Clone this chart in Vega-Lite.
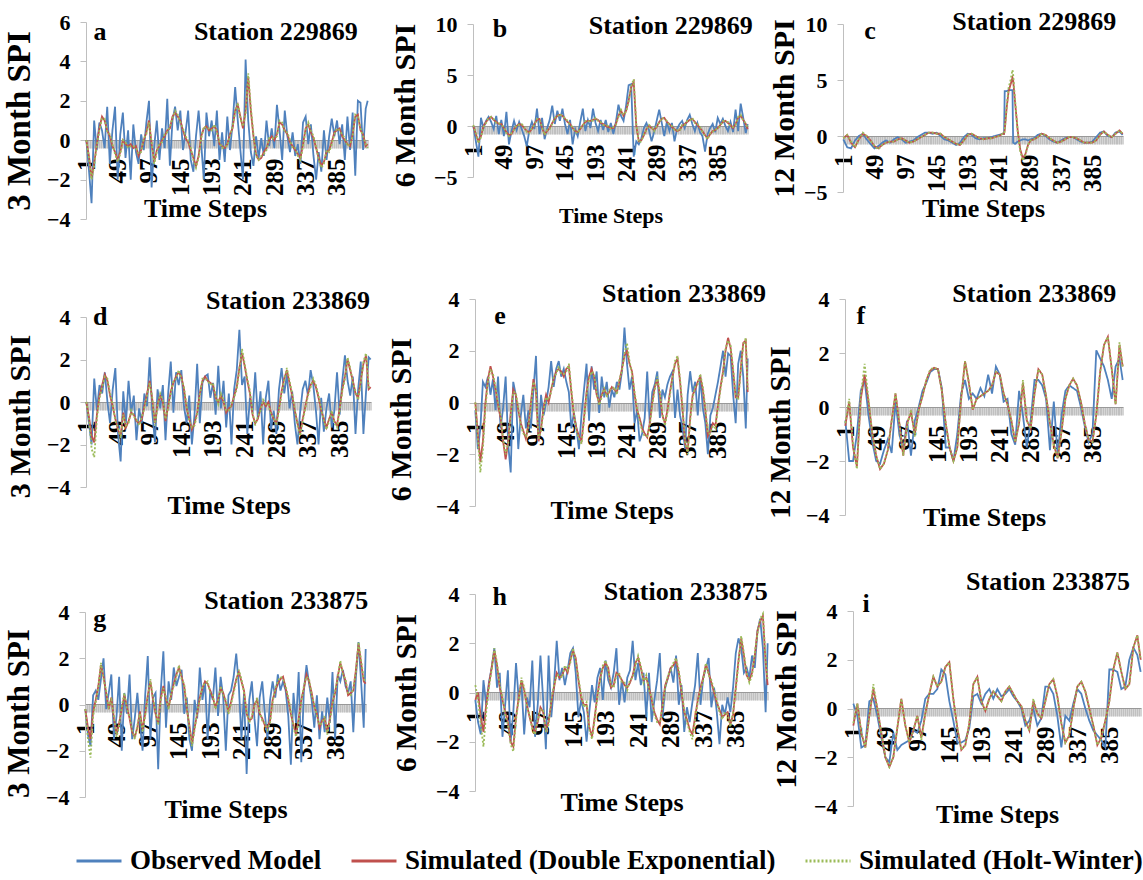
{
"$schema": "https://vega.github.io/schema/vega-lite/v6.json",
"padding": {"left": 3, "top": 8, "right": 0, "bottom": 0},
"background": "white",
"columns": 3,
"spacing": {"row": 79, "column": 75},
"bounds": "flush",
"align": "each",
"datasets": {
"a": [{"t":1,"o":0,"d":0,"h":0},{"t":5,"o":-1.5,"d":-0.8,"h":-0.9},{"t":9,"o":-3.2,"d":-1.9,"h":-2.0},{"t":13,"o":1.0,"d":-1.2,"h":-1.3},{"t":17,"o":-0.5,"d":-0.2,"h":-0.3},{"t":21,"o":0.9,"d":0.6,"h":0.5},{"t":25,"o":0.5,"d":1.2,"h":1.1},{"t":29,"o":-0.4,"d":1.0,"h":1.1},{"t":33,"o":1.7,"d":0.5,"h":0.4},{"t":37,"o":-1.2,"d":0.2,"h":0.3},{"t":41,"o":0.5,"d":-0.3,"h":-0.2},{"t":45,"o":1.7,"d":-0.6,"h":-0.7},{"t":49,"o":-2.0,"d":-1.0,"h":-1.1},{"t":53,"o":0.3,"d":-0.6,"h":-0.7},{"t":57,"o":1.4,"d":0,"h":0},{"t":61,"o":-0.9,"d":-0.2,"h":-0.1},{"t":65,"o":0.5,"d":-0.3,"h":-0.4},{"t":69,"o":-2.0,"d":-0.2,"h":-0.3},{"t":73,"o":0.8,"d":-0.4,"h":-0.3},{"t":77,"o":-0.6,"d":-0.3,"h":-0.4},{"t":81,"o":-1.2,"d":-0.8,"h":-0.7},{"t":85,"o":0.3,"d":-0.5,"h":-0.6},{"t":89,"o":-0.5,"d":0,"h":0.1},{"t":93,"o":0.9,"d":0.4,"h":0.3},{"t":97,"o":2.0,"d":1.0,"h":0.9},{"t":101,"o":-2.4,"d":-0.2,"h":-0.1},{"t":105,"o":-0.3,"d":-1.1,"h":-1.2},{"t":109,"o":1.0,"d":-0.5,"h":-0.6},{"t":113,"o":-1.0,"d":-0.3,"h":-0.2},{"t":117,"o":0.6,"d":0,"h":-0.1},{"t":121,"o":-0.4,"d":0.2,"h":0.3},{"t":125,"o":2.1,"d":0.5,"h":0.4},{"t":129,"o":-1.3,"d":0.6,"h":0.7},{"t":133,"o":1.0,"d":1.2,"h":1.1},{"t":137,"o":1.7,"d":1.4,"h":1.5},{"t":141,"o":0.5,"d":1.2,"h":1.3},{"t":145,"o":1.5,"d":1.0,"h":0.9},{"t":149,"o":-0.5,"d":0.5,"h":0.6},{"t":153,"o":0.4,"d":0.1,"h":0.2},{"t":157,"o":1.5,"d":-0.1,"h":0},{"t":161,"o":-1.0,"d":-0.5,"h":-0.4},{"t":165,"o":-1.6,"d":-0.9,"h":-1.0},{"t":169,"o":0.2,"d":-1.3,"h":-1.4},{"t":173,"o":1.5,"d":-0.8,"h":-0.9},{"t":177,"o":-0.2,"d":0.2,"h":0.1},{"t":181,"o":-2.0,"d":0.6,"h":0.7},{"t":185,"o":1.4,"d":0.7,"h":0.6},{"t":189,"o":0.2,"d":0.5,"h":0.6},{"t":193,"o":1.0,"d":0.6,"h":0.5},{"t":197,"o":-0.3,"d":0.7,"h":0.8},{"t":201,"o":1.5,"d":0.5,"h":0.4},{"t":205,"o":-1.0,"d":-0.2,"h":-0.1},{"t":209,"o":0.4,"d":-0.3,"h":-0.4},{"t":213,"o":-1.1,"d":-0.4,"h":-0.3},{"t":217,"o":1.2,"d":-0.2,"h":-0.3},{"t":221,"o":-0.5,"d":0.3,"h":0.2},{"t":225,"o":0.8,"d":0.6,"h":0.7},{"t":229,"o":2.7,"d":1.5,"h":1.4},{"t":233,"o":1.0,"d":1.8,"h":1.9},{"t":237,"o":-0.5,"d":1.2,"h":1.1},{"t":241,"o":-2.0,"d":0.6,"h":0.7},{"t":245,"o":4.1,"d":1.5,"h":1.3},{"t":249,"o":1.0,"d":3.2,"h":3.4},{"t":253,"o":-0.6,"d":1.5,"h":1.7},{"t":257,"o":-1.3,"d":0.2,"h":0.3},{"t":261,"o":0.2,"d":-0.7,"h":-0.8},{"t":265,"o":-0.9,"d":-1.0,"h":-1.0},{"t":269,"o":0.1,"d":-0.9,"h":-0.8},{"t":273,"o":-0.8,"d":-0.6,"h":-0.7},{"t":277,"o":1.0,"d":-0.4,"h":-0.5},{"t":281,"o":-0.3,"d":0,"h":0.1},{"t":285,"o":0.6,"d":0.2,"h":0.1},{"t":289,"o":-0.4,"d":0,"h":0.1},{"t":293,"o":1.8,"d":0.3,"h":0.2},{"t":297,"o":0.5,"d":0.9,"h":1.0},{"t":301,"o":-1.0,"d":0.8,"h":0.9},{"t":305,"o":1.5,"d":0.5,"h":0.4},{"t":309,"o":0.2,"d":0.3,"h":0.4},{"t":313,"o":-0.6,"d":-0.1,"h":0},{"t":317,"o":0.4,"d":-0.3,"h":-0.4},{"t":321,"o":-0.8,"d":-0.5,"h":-0.4},{"t":325,"o":-0.2,"d":-0.7,"h":-0.8},{"t":329,"o":-1.2,"d":-0.9,"h":-1.0},{"t":333,"o":0.9,"d":-0.2,"h":-0.3},{"t":337,"o":1.2,"d":0.6,"h":0.5},{"t":341,"o":-0.2,"d":0.8,"h":0.9},{"t":345,"o":0.8,"d":0.4,"h":0.5},{"t":349,"o":-0.8,"d":0.1,"h":0.2},{"t":353,"o":-2.0,"d":-0.4,"h":-0.3},{"t":357,"o":-0.6,"d":-0.9,"h":-1.0},{"t":361,"o":-1.6,"d":-1.3,"h":-1.4},{"t":365,"o":0.5,"d":-1.1,"h":-1.2},{"t":369,"o":-1.0,"d":-0.6,"h":-0.5},{"t":373,"o":0.2,"d":-0.5,"h":-0.6},{"t":377,"o":1.1,"d":-0.1,"h":-0.2},{"t":381,"o":0.2,"d":0.4,"h":0.3},{"t":385,"o":1.0,"d":0.5,"h":0.6},{"t":389,"o":-0.2,"d":0.6,"h":0.5},{"t":393,"o":0.8,"d":0.2,"h":0.3},{"t":397,"o":-1.0,"d":0,"h":0.1},{"t":401,"o":1.2,"d":-0.2,"h":-0.3},{"t":405,"o":-0.5,"d":-0.3,"h":-0.2},{"t":409,"o":1.4,"d":0.3,"h":0.2},{"t":413,"o":-1.8,"d":1.2,"h":1.3},{"t":417,"o":2.0,"d":1.3,"h":1.2},{"t":421,"o":1.9,"d":0.5,"h":0.6},{"t":425,"o":-0.5,"d":0.3,"h":0.2},{"t":429,"o":1.6,"d":-0.3,"h":-0.2},{"t":432,"o":2.0,"d":-0.2,"h":-0.4}],
"b": [{"t":1,"o":0,"d":0,"h":0.1},{"t":5,"o":-1.5,"d":-0.8,"h":-0.7},{"t":9,"o":-3.0,"d":-1.5,"h":-1.7},{"t":13,"o":0.8,"d":-1.0,"h":-1.1},{"t":17,"o":-0.2,"d":0,"h":-0.1},{"t":21,"o":0.5,"d":0.4,"h":0.3},{"t":25,"o":0.9,"d":0.7,"h":0.8},{"t":29,"o":0.4,"d":0.9,"h":0.9},{"t":33,"o":-0.3,"d":0.6,"h":0.7},{"t":37,"o":1.0,"d":0.4,"h":0.3},{"t":41,"o":-0.8,"d":0.2,"h":0.3},{"t":45,"o":0.6,"d":0.2,"h":0.1},{"t":49,"o":-1.0,"d":-0.2,"h":-0.1},{"t":53,"o":1.4,"d":-0.6,"h":-0.7},{"t":57,"o":-1.8,"d":-0.9,"h":-1.0},{"t":61,"o":-0.5,"d":-0.8,"h":-0.7},{"t":65,"o":0.5,"d":-0.3,"h":-0.4},{"t":69,"o":-0.4,"d":0,"h":0.1},{"t":73,"o":0.4,"d":0.2,"h":0.1},{"t":77,"o":-0.3,"d":0.1,"h":0.2},{"t":81,"o":-1.0,"d":-0.2,"h":-0.1},{"t":85,"o":-2.0,"d":-0.5,"h":-0.6},{"t":89,"o":-0.4,"d":-0.6,"h":-0.7},{"t":93,"o":0.4,"d":-0.3,"h":-0.2},{"t":97,"o":-0.3,"d":0.2,"h":0.1},{"t":101,"o":1.7,"d":0.6,"h":0.7},{"t":105,"o":-0.8,"d":0.7,"h":0.6},{"t":109,"o":0.8,"d":-0.2,"h":-0.1},{"t":113,"o":-1.3,"d":-0.8,"h":-0.9},{"t":117,"o":-0.2,"d":-0.5,"h":-0.4},{"t":121,"o":0.6,"d":-0.2,"h":-0.3},{"t":125,"o":2.0,"d":0.3,"h":0.2},{"t":129,"o":0.2,"d":0.7,"h":0.8},{"t":133,"o":1.5,"d":1.0,"h":0.9},{"t":137,"o":0.5,"d":1.1,"h":1.2},{"t":141,"o":1.7,"d":1.0,"h":0.9},{"t":145,"o":0.2,"d":0.7,"h":0.8},{"t":149,"o":-0.8,"d":0.4,"h":0.5},{"t":153,"o":0.6,"d":0.2,"h":0.1},{"t":157,"o":-1.8,"d":-0.2,"h":-0.1},{"t":161,"o":-0.3,"d":-0.5,"h":-0.6},{"t":165,"o":-1.0,"d":-0.6,"h":-0.7},{"t":169,"o":0.4,"d":-0.3,"h":-0.2},{"t":173,"o":1.7,"d":0.1,"h":0.0},{"t":177,"o":-0.5,"d":0.4,"h":0.5},{"t":181,"o":0.6,"d":0.5,"h":0.4},{"t":185,"o":-0.2,"d":0.5,"h":0.6},{"t":189,"o":1.7,"d":0.6,"h":0.5},{"t":193,"o":0.3,"d":0.7,"h":0.8},{"t":197,"o":-0.5,"d":0.6,"h":0.5},{"t":201,"o":0.6,"d":0.3,"h":0.4},{"t":205,"o":-0.4,"d":0.2,"h":0.1},{"t":209,"o":0.6,"d":0.0,"h":0.1},{"t":213,"o":-0.6,"d":-0.1,"h":0},{"t":217,"o":0.3,"d":-0.2,"h":-0.3},{"t":221,"o":-0.8,"d":-0.2,"h":-0.1},{"t":225,"o":0.4,"d":0.2,"h":0.1},{"t":229,"o":2.1,"d":1.0,"h":0.9},{"t":233,"o":1.0,"d":1.5,"h":1.6},{"t":237,"o":0.5,"d":1.0,"h":1.1},{"t":241,"o":2.0,"d":1.5,"h":1.4},{"t":245,"o":4.0,"d":2.5,"h":2.4},{"t":249,"o":4.1,"d":3.8,"h":3.9},{"t":253,"o":-3.0,"d":4.3,"h":4.6},{"t":257,"o":-1.5,"d":0.0,"h":0.2},{"t":261,"o":-1.8,"d":-1.5,"h":-1.6},{"t":265,"o":-1.2,"d":-1.4,"h":-1.5},{"t":269,"o":-0.2,"d":-0.9,"h":-0.8},{"t":273,"o":0.3,"d":-0.3,"h":-0.4},{"t":277,"o":-0.4,"d":0,"h":0.1},{"t":281,"o":-1.5,"d":-0.2,"h":-0.1},{"t":285,"o":-0.6,"d":-0.4,"h":-0.5},{"t":289,"o":0.5,"d":-0.1,"h":0},{"t":293,"o":1.6,"d":0.4,"h":0.3},{"t":297,"o":0.3,"d":0.7,"h":0.8},{"t":301,"o":-1.0,"d":0.8,"h":0.7},{"t":305,"o":0.4,"d":0.4,"h":0.5},{"t":309,"o":-0.5,"d":0.2,"h":0.1},{"t":313,"o":0.3,"d":-0.1,"h":0},{"t":317,"o":-1.5,"d":-0.3,"h":-0.4},{"t":321,"o":-0.3,"d":-0.5,"h":-0.4},{"t":325,"o":0.2,"d":-0.4,"h":-0.5},{"t":329,"o":0.5,"d":0,"h":0.1},{"t":333,"o":-0.2,"d":0.2,"h":0.1},{"t":337,"o":0.6,"d":0.4,"h":0.5},{"t":341,"o":1.1,"d":0.6,"h":0.5},{"t":345,"o":0.2,"d":0.7,"h":0.8},{"t":349,"o":-0.5,"d":0.4,"h":0.3},{"t":353,"o":0.3,"d":0.1,"h":0.2},{"t":357,"o":-0.6,"d":-0.2,"h":-0.1},{"t":361,"o":-1.0,"d":-0.5,"h":-0.6},{"t":365,"o":-2.5,"d":-0.9,"h":-1.0},{"t":369,"o":-0.8,"d":-1.2,"h":-1.3},{"t":373,"o":-0.2,"d":-0.8,"h":-0.7},{"t":377,"o":0.2,"d":-0.5,"h":-0.6},{"t":381,"o":-0.6,"d":-0.4,"h":-0.3},{"t":385,"o":0.8,"d":-0.2,"h":-0.3},{"t":389,"o":0.2,"d":0.1,"h":0},{"t":393,"o":0.7,"d":0.4,"h":0.5},{"t":397,"o":0.0,"d":0.5,"h":0.4},{"t":401,"o":-0.5,"d":0.3,"h":0.4},{"t":405,"o":0.4,"d":0.1,"h":0},{"t":409,"o":-0.6,"d":-0.2,"h":-0.1},{"t":413,"o":1.6,"d":0.2,"h":0.1},{"t":417,"o":-0.5,"d":0.8,"h":0.9},{"t":421,"o":2.2,"d":1.0,"h":1.1},{"t":425,"o":0.8,"d":0.6,"h":0.5},{"t":429,"o":-0.7,"d":0.2,"h":0.3},{"t":432,"o":0.2,"d":-0.3,"h":-0.2}],
"c": [{"t":1,"o":-0.3,"d":-0.2,"h":-0.2},{"t":7,"o":-1.0,"d":0.1,"h":0.1},{"t":13,"o":-1.1,"d":-0.6,"h":-0.5},{"t":19,"o":-0.4,"d":-1.0,"h":-1.0},{"t":25,"o":0.0,"d":-0.3,"h":-0.3},{"t":31,"o":0.2,"d":0.2,"h":0.3},{"t":37,"o":-0.3,"d":0.0,"h":0.0},{"t":43,"o":-0.7,"d":-0.4,"h":-0.4},{"t":49,"o":-1.1,"d":-0.9,"h":-0.9},{"t":55,"o":-0.9,"d":-1.1,"h":-1.2},{"t":61,"o":-0.6,"d":-0.8,"h":-0.8},{"t":67,"o":-0.4,"d":-0.6,"h":-0.6},{"t":73,"o":-0.6,"d":-0.5,"h":-0.5},{"t":79,"o":-0.3,"d":-0.5,"h":-0.5},{"t":85,"o":-0.1,"d":-0.3,"h":-0.3},{"t":91,"o":-0.3,"d":-0.2,"h":-0.2},{"t":97,"o":-0.6,"d":-0.4,"h":-0.4},{"t":103,"o":-0.5,"d":-0.6,"h":-0.6},{"t":109,"o":-0.4,"d":-0.5,"h":-0.5},{"t":115,"o":-0.1,"d":-0.3,"h":-0.3},{"t":121,"o":0.1,"d":-0.1,"h":-0.1},{"t":127,"o":0.3,"d":0.1,"h":0.1},{"t":133,"o":0.3,"d":0.3,"h":0.3},{"t":139,"o":0.2,"d":0.3,"h":0.3},{"t":145,"o":0.3,"d":0.2,"h":0.2},{"t":151,"o":0.0,"d":0.2,"h":0.2},{"t":157,"o":-0.3,"d":-0.1,"h":-0.1},{"t":163,"o":-0.4,"d":-0.3,"h":-0.3},{"t":169,"o":-0.6,"d":-0.5,"h":-0.5},{"t":175,"o":-0.8,"d":-0.7,"h":-0.7},{"t":181,"o":-0.6,"d":-0.8,"h":-0.8},{"t":187,"o":-0.1,"d":-0.4,"h":-0.4},{"t":193,"o":0.2,"d":0.1,"h":0.1},{"t":199,"o":0.1,"d":0.2,"h":0.2},{"t":205,"o":-0.2,"d":0.0,"h":0.0},{"t":211,"o":-0.3,"d":-0.2,"h":-0.2},{"t":217,"o":-0.2,"d":-0.3,"h":-0.3},{"t":223,"o":-0.2,"d":-0.2,"h":-0.2},{"t":229,"o":-0.1,"d":-0.2,"h":-0.2},{"t":235,"o":0.0,"d":-0.1,"h":-0.1},{"t":241,"o":0.1,"d":0.0,"h":0.0},{"t":247,"o":0.2,"d":0.2,"h":0.2},{"t":249,"o":0.2,"d":0.2,"h":0.2},{"t":250,"o":4.0,"d":0.5,"h":0.5},{"t":253,"o":4.0,"d":2.5,"h":2.6},{"t":256,"o":4.1,"d":4.0,"h":4.3},{"t":259,"o":4.1,"d":4.6,"h":5.0},{"t":262,"o":4.1,"d":5.2,"h":5.9},{"t":263,"o":-0.6,"d":5.0,"h":5.5},{"t":266,"o":-0.7,"d":3.0,"h":3.2},{"t":270,"o":-0.5,"d":0.5,"h":0.4},{"t":274,"o":-0.4,"d":-1.2,"h":-1.4},{"t":278,"o":-0.3,"d":-2.0,"h":-2.2},{"t":282,"o":-0.3,"d":-1.6,"h":-1.7},{"t":286,"o":-0.4,"d":-0.8,"h":-0.8},{"t":290,"o":-0.3,"d":-0.4,"h":-0.4},{"t":295,"o":-0.2,"d":-0.3,"h":-0.3},{"t":301,"o":0.1,"d":-0.1,"h":-0.1},{"t":307,"o":0.2,"d":0.2,"h":0.2},{"t":313,"o":0.0,"d":0.1,"h":0.1},{"t":319,"o":-0.3,"d":-0.2,"h":-0.2},{"t":325,"o":-0.5,"d":-0.4,"h":-0.4},{"t":331,"o":-0.6,"d":-0.6,"h":-0.6},{"t":337,"o":-0.4,"d":-0.5,"h":-0.5},{"t":343,"o":-0.2,"d":-0.3,"h":-0.3},{"t":349,"o":-0.1,"d":-0.1,"h":-0.1},{"t":355,"o":-0.1,"d":-0.1,"h":-0.1},{"t":361,"o":-0.3,"d":-0.2,"h":-0.2},{"t":367,"o":-0.5,"d":-0.4,"h":-0.4},{"t":373,"o":-0.6,"d":-0.6,"h":-0.6},{"t":379,"o":-0.6,"d":-0.6,"h":-0.6},{"t":385,"o":-0.5,"d":-0.6,"h":-0.6},{"t":391,"o":-0.1,"d":-0.4,"h":-0.4},{"t":397,"o":0.3,"d":0.1,"h":0.1},{"t":403,"o":0.4,"d":0.4,"h":0.4},{"t":409,"o":0.0,"d":0.1,"h":0.1},{"t":415,"o":-0.1,"d":-0.1,"h":-0.1},{"t":421,"o":0.3,"d":0.2,"h":0.2},{"t":427,"o":0.4,"d":0.5,"h":0.5},{"t":432,"o":0.1,"d":0.2,"h":0.2}],
"d": [{"t":1,"o":0,"d":0,"h":0},{"t":5,"o":-1.0,"d":-0.7,"h":-0.8},{"t":9,"o":-2.0,"d":-1.6,"h":-2.2},{"t":13,"o":1.1,"d":-1.9,"h":-2.6},{"t":17,"o":-0.4,"d":-0.6,"h":-0.8},{"t":21,"o":0.8,"d":0.3,"h":0.2},{"t":25,"o":0.4,"d":0.8,"h":0.7},{"t":29,"o":1.4,"d":1.3,"h":1.2},{"t":33,"o":0.0,"d":1.0,"h":1.1},{"t":37,"o":-1.0,"d":0.3,"h":0.4},{"t":41,"o":0.6,"d":-0.2,"h":-0.1},{"t":45,"o":1.6,"d":-0.8,"h":-0.9},{"t":49,"o":-1.5,"d":-1.3,"h":-1.2},{"t":53,"o":-2.8,"d":-1.6,"h":-1.7},{"t":57,"o":0.5,"d":-0.5,"h":-0.6},{"t":61,"o":-1.0,"d":-1.2,"h":-1.1},{"t":65,"o":1.0,"d":-0.9,"h":-1.0},{"t":69,"o":-0.5,"d":-0.5,"h":-0.4},{"t":73,"o":0.3,"d":-0.6,"h":-0.7},{"t":77,"o":-1.8,"d":-0.9,"h":-0.8},{"t":81,"o":-0.3,"d":-1.0,"h":-1.1},{"t":85,"o":-1.0,"d":-0.8,"h":-0.7},{"t":89,"o":0.4,"d":-0.2,"h":-0.3},{"t":93,"o":-0.2,"d":0.4,"h":0.3},{"t":97,"o":2.1,"d":1.0,"h":0.9},{"t":101,"o":-0.5,"d":0.1,"h":0.2},{"t":105,"o":-1.9,"d":-1.0,"h":-1.1},{"t":109,"o":0.6,"d":-0.1,"h":-0.2},{"t":113,"o":-0.3,"d":0.3,"h":0.4},{"t":117,"o":0.8,"d":0.0,"h":0.1},{"t":121,"o":-1.8,"d":-0.9,"h":-0.8},{"t":125,"o":0.4,"d":-0.2,"h":-0.3},{"t":129,"o":1.9,"d":0.5,"h":0.4},{"t":133,"o":-0.5,"d":0.9,"h":1.0},{"t":137,"o":1.4,"d":1.2,"h":1.1},{"t":141,"o":0.8,"d":1.4,"h":1.5},{"t":145,"o":1.5,"d":1.2,"h":1.1},{"t":149,"o":-0.2,"d":0.6,"h":0.7},{"t":153,"o":-1.0,"d":-0.3,"h":-0.2},{"t":157,"o":0.3,"d":-0.8,"h":-0.9},{"t":161,"o":-2.0,"d":-1.3,"h":-1.2},{"t":165,"o":-0.6,"d":-1.0,"h":-1.1},{"t":169,"o":1.8,"d":-0.5,"h":-0.6},{"t":173,"o":-1.0,"d":0.4,"h":0.3},{"t":177,"o":0.9,"d":1.0,"h":1.1},{"t":181,"o":1.2,"d":1.2,"h":1.1},{"t":185,"o":1.3,"d":1.0,"h":1.0},{"t":189,"o":0.2,"d":0.9,"h":0.8},{"t":193,"o":0.9,"d":0.8,"h":0.9},{"t":197,"o":-0.6,"d":0.2,"h":0.3},{"t":201,"o":1.7,"d":0.0,"h":-0.1},{"t":205,"o":-0.3,"d":0.3,"h":0.4},{"t":209,"o":1.0,"d":0.0,"h":0.1},{"t":213,"o":-1.2,"d":-0.5,"h":-0.4},{"t":217,"o":0.4,"d":-0.3,"h":-0.4},{"t":221,"o":-2.0,"d":-0.2,"h":-0.1},{"t":225,"o":0.6,"d":0.3,"h":0.2},{"t":229,"o":1.5,"d":0.7,"h":0.6},{"t":233,"o":3.4,"d":1.6,"h":1.5},{"t":237,"o":0.8,"d":2.3,"h":2.5},{"t":241,"o":1.2,"d":1.7,"h":1.8},{"t":245,"o":-1.5,"d":1.0,"h":1.1},{"t":249,"o":0.2,"d":0.4,"h":0.5},{"t":253,"o":-0.5,"d":-0.6,"h":-0.5},{"t":257,"o":1.4,"d":-1.0,"h":-1.1},{"t":261,"o":-0.8,"d":-0.8,"h":-0.7},{"t":265,"o":0.5,"d":-0.3,"h":-0.4},{"t":269,"o":-2.0,"d":0.0,"h":0.1},{"t":273,"o":0.2,"d":-0.2,"h":-0.1},{"t":277,"o":1.0,"d":0.0,"h":-0.1},{"t":281,"o":-1.3,"d":-0.5,"h":-0.6},{"t":285,"o":-0.4,"d":-0.8,"h":-0.7},{"t":289,"o":-1.5,"d":-1.0,"h":-1.1},{"t":293,"o":0.6,"d":-0.3,"h":-0.4},{"t":297,"o":1.6,"d":0.5,"h":0.4},{"t":301,"o":0.4,"d":1.1,"h":1.0},{"t":305,"o":1.3,"d":1.5,"h":1.6},{"t":309,"o":-0.3,"d":0.9,"h":1.0},{"t":313,"o":0.5,"d":0.3,"h":0.4},{"t":317,"o":-1.0,"d":-0.4,"h":-0.3},{"t":321,"o":-2.0,"d":-1.0,"h":-1.1},{"t":325,"o":-0.5,"d":-1.5,"h":-1.6},{"t":329,"o":0.6,"d":-0.8,"h":-0.9},{"t":333,"o":1.0,"d":-0.2,"h":-0.3},{"t":337,"o":0.3,"d":0.4,"h":0.3},{"t":341,"o":1.5,"d":0.8,"h":0.7},{"t":345,"o":0.8,"d":1.0,"h":1.1},{"t":349,"o":-0.4,"d":0.7,"h":0.8},{"t":353,"o":-2.0,"d":0.2,"h":0.3},{"t":357,"o":0.2,"d":-0.4,"h":-0.3},{"t":361,"o":-1.4,"d":-0.8,"h":-0.9},{"t":365,"o":-0.3,"d":-1.2,"h":-1.3},{"t":369,"o":0.4,"d":-0.8,"h":-0.9},{"t":373,"o":-1.2,"d":-0.5,"h":-0.4},{"t":377,"o":-0.4,"d":-0.9,"h":-1.0},{"t":381,"o":1.4,"d":-1.1,"h":-1.2},{"t":385,"o":-0.6,"d":-0.3,"h":-0.4},{"t":389,"o":1.0,"d":0.6,"h":0.5},{"t":393,"o":2.2,"d":1.2,"h":1.1},{"t":397,"o":1.0,"d":2.0,"h":2.1},{"t":401,"o":0.3,"d":1.5,"h":1.6},{"t":405,"o":1.2,"d":1.0,"h":0.9},{"t":409,"o":-1.5,"d":0.4,"h":0.5},{"t":413,"o":0.6,"d":0.2,"h":0.1},{"t":417,"o":1.9,"d":1.0,"h":0.9},{"t":421,"o":-1.5,"d":1.8,"h":1.9},{"t":425,"o":0.5,"d":2.2,"h":2.3},{"t":429,"o":2.1,"d":0.6,"h":0.7},{"t":432,"o":2.0,"d":0.7,"h":0.6}],
"e": [{"t":1,"o":-0.3,"d":0,"h":0},{"t":5,"o":-1.8,"d":-1.2,"h":-1.4},{"t":9,"o":-1.0,"d":-2.3,"h":-2.7},{"t":13,"o":0.8,"d":-1.5,"h":-1.8},{"t":17,"o":0.6,"d":0.0,"h":-0.2},{"t":21,"o":1.0,"d":0.9,"h":0.8},{"t":25,"o":0.3,"d":1.4,"h":1.3},{"t":29,"o":0.9,"d":1.0,"h":1.1},{"t":33,"o":-0.3,"d":0.5,"h":0.6},{"t":37,"o":1.0,"d":-0.1,"h":0},{"t":41,"o":-1.0,"d":-0.6,"h":-0.5},{"t":45,"o":-0.2,"d":-1.5,"h":-1.4},{"t":49,"o":1.0,"d":-2.2,"h":-2.0},{"t":53,"o":-1.6,"d":-1.5,"h":-1.6},{"t":57,"o":-2.7,"d":-0.4,"h":-0.5},{"t":61,"o":0.8,"d":0.5,"h":0.4},{"t":65,"o":0.3,"d":0.3,"h":0.4},{"t":69,"o":-1.8,"d":-0.3,"h":-0.2},{"t":73,"o":-0.5,"d":-0.8,"h":-0.9},{"t":77,"o":0.3,"d":-1.1,"h":-1.2},{"t":81,"o":-1.0,"d":-1.4,"h":-1.3},{"t":85,"o":-0.3,"d":-0.9,"h":-1.0},{"t":89,"o":-1.0,"d":0.0,"h":-0.1},{"t":93,"o":0.5,"d":0.9,"h":0.8},{"t":97,"o":1.8,"d":0.4,"h":0.5},{"t":101,"o":-1.5,"d":-1.5,"h":-1.4},{"t":105,"o":0.3,"d":-1.0,"h":-1.1},{"t":109,"o":-0.5,"d":-0.2,"h":-0.3},{"t":113,"o":0.0,"d":0.3,"h":0.2},{"t":117,"o":0.6,"d":0.0,"h":0.1},{"t":121,"o":1.6,"d":0.5,"h":0.4},{"t":125,"o":0.6,"d":0.9,"h":1.0},{"t":129,"o":1.3,"d":1.2,"h":1.1},{"t":133,"o":1.6,"d":1.3,"h":1.4},{"t":137,"o":1.0,"d":1.2,"h":1.1},{"t":141,"o":1.3,"d":1.0,"h":1.1},{"t":145,"o":0.8,"d":1.3,"h":1.2},{"t":149,"o":0.4,"d":1.4,"h":1.5},{"t":153,"o":-1.0,"d":0.4,"h":0.5},{"t":157,"o":-0.4,"d":-0.5,"h":-0.4},{"t":161,"o":-1.0,"d":-1.0,"h":-1.1},{"t":165,"o":-1.8,"d":-1.3,"h":-1.4},{"t":169,"o":-0.5,"d":-1.5,"h":-1.6},{"t":173,"o":0.5,"d":-0.6,"h":-0.7},{"t":177,"o":1.5,"d":0.4,"h":0.3},{"t":181,"o":-0.7,"d":1.0,"h":0.9},{"t":185,"o":1.4,"d":1.3,"h":1.2},{"t":189,"o":0.5,"d":1.0,"h":1.1},{"t":193,"o":1.2,"d":0.3,"h":0.4},{"t":197,"o":-0.4,"d":0.0,"h":-0.1},{"t":201,"o":1.0,"d":0.3,"h":0.2},{"t":205,"o":0.2,"d":0.5,"h":0.6},{"t":209,"o":0.8,"d":0.3,"h":0.2},{"t":213,"o":-0.2,"d":0.4,"h":0.5},{"t":217,"o":0.5,"d":0.6,"h":0.5},{"t":221,"o":0.2,"d":0.5,"h":0.6},{"t":225,"o":0.8,"d":0.4,"h":0.3},{"t":229,"o":0.5,"d":0.8,"h":0.9},{"t":233,"o":1.2,"d":1.3,"h":1.2},{"t":237,"o":2.9,"d":1.8,"h":1.9},{"t":241,"o":1.5,"d":2.0,"h":2.3},{"t":245,"o":0.5,"d":1.5,"h":1.6},{"t":249,"o":1.0,"d":1.2,"h":1.1},{"t":253,"o":-0.8,"d":0.3,"h":0.4},{"t":257,"o":-0.3,"d":-0.3,"h":-0.2},{"t":261,"o":-1.5,"d":-0.6,"h":-0.7},{"t":265,"o":-1.2,"d":-1.0,"h":-1.1},{"t":269,"o":-0.6,"d":-1.2,"h":-1.3},{"t":273,"o":1.2,"d":-1.35,"h":-1.3},{"t":277,"o":-0.8,"d":-0.8,"h":-0.9},{"t":281,"o":0.4,"d":0.0,"h":-0.1},{"t":285,"o":0.7,"d":0.6,"h":0.5},{"t":289,"o":1.2,"d":0.9,"h":1.0},{"t":293,"o":-0.6,"d":0.3,"h":0.4},{"t":297,"o":0.5,"d":-0.5,"h":-0.4},{"t":301,"o":0.2,"d":-0.8,"h":-0.9},{"t":305,"o":0.7,"d":-0.3,"h":-0.4},{"t":309,"o":1.0,"d":0.4,"h":0.3},{"t":313,"o":1.2,"d":1.0,"h":0.9},{"t":317,"o":-0.6,"d":1.5,"h":1.6},{"t":321,"o":0.5,"d":1.7,"h":1.8},{"t":325,"o":-0.5,"d":0.8,"h":0.9},{"t":329,"o":-1.0,"d":-0.3,"h":-0.2},{"t":333,"o":-1.8,"d":-1.6,"h":-1.5},{"t":337,"o":0.3,"d":-1.9,"h":-2.0},{"t":341,"o":1.2,"d":-0.6,"h":-0.7},{"t":345,"o":0.4,"d":0.3,"h":0.2},{"t":349,"o":0.8,"d":0.5,"h":0.6},{"t":353,"o":-0.5,"d":0.8,"h":0.7},{"t":357,"o":1.0,"d":1.0,"h":1.1},{"t":361,"o":-0.2,"d":0.5,"h":0.6},{"t":365,"o":-0.8,"d":-0.3,"h":-0.2},{"t":369,"o":-2.0,"d":-1.3,"h":-1.2},{"t":373,"o":-0.5,"d":-1.1,"h":-1.2},{"t":377,"o":-0.2,"d":-0.8,"h":-0.9},{"t":381,"o":0.3,"d":-0.9,"h":-1.0},{"t":385,"o":0.8,"d":-0.1,"h":-0.2},{"t":389,"o":1.4,"d":0.6,"h":0.5},{"t":393,"o":2.0,"d":1.2,"h":1.1},{"t":397,"o":1.0,"d":2.0,"h":2.1},{"t":401,"o":1.9,"d":2.5,"h":2.4},{"t":405,"o":1.8,"d":2.1,"h":2.2},{"t":409,"o":0.3,"d":1.2,"h":1.3},{"t":413,"o":-0.8,"d":0.2,"h":0.3},{"t":417,"o":1.5,"d":0.2,"h":0.1},{"t":421,"o":2.0,"d":1.3,"h":1.2},{"t":425,"o":1.0,"d":2.3,"h":2.2},{"t":429,"o":-1.0,"d":2.4,"h":2.5},{"t":432,"o":1.7,"d":0.4,"h":0.5}],
"f": [{"t":1,"o":-0.5,"d":-0.7,"h":-0.6},{"t":7,"o":-2.0,"d":0.2,"h":0.3},{"t":13,"o":-2.0,"d":-1.5,"h":-1.4},{"t":19,"o":-1.0,"d":-2.2,"h":-2.3},{"t":25,"o":0.6,"d":0.3,"h":0.4},{"t":31,"o":1.0,"d":1.2,"h":1.6},{"t":37,"o":-0.3,"d":0.2,"h":0.3},{"t":43,"o":-1.3,"d":-1.0,"h":-1.0},{"t":49,"o":-2.0,"d":-1.8,"h":-1.8},{"t":55,"o":-2.1,"d":-2.3,"h":-2.3},{"t":61,"o":-1.6,"d":-2.1,"h":-2.1},{"t":67,"o":-1.2,"d":-1.6,"h":-1.6},{"t":73,"o":-1.7,"d":-0.5,"h":-0.5},{"t":79,"o":0.2,"d":0.5,"h":0.5},{"t":85,"o":-1.0,"d":-0.6,"h":-0.6},{"t":91,"o":-1.6,"d":-1.8,"h":-1.8},{"t":97,"o":-0.5,"d":-0.6,"h":-0.7},{"t":103,"o":-1.8,"d":-0.2,"h":-0.1},{"t":109,"o":-0.5,"d":-1.0,"h":-1.1},{"t":115,"o":0.0,"d":-0.1,"h":-0.1},{"t":121,"o":0.6,"d":0.4,"h":0.4},{"t":127,"o":0.9,"d":1.0,"h":1.0},{"t":133,"o":1.3,"d":1.35,"h":1.4},{"t":139,"o":1.4,"d":1.45,"h":1.45},{"t":145,"o":1.4,"d":1.4,"h":1.4},{"t":151,"o":0.7,"d":0.6,"h":0.6},{"t":157,"o":-1.5,"d":-0.6,"h":-0.6},{"t":163,"o":-1.5,"d":-1.5,"h":-1.5},{"t":169,"o":-2.0,"d":-2.0,"h":-2.0},{"t":175,"o":-1.0,"d":-1.5,"h":-1.5},{"t":181,"o":0.5,"d":0.3,"h":0.3},{"t":187,"o":1.0,"d":1.7,"h":1.7},{"t":193,"o":0.3,"d":0.9,"h":0.9},{"t":199,"o":0.5,"d":-0.1,"h":-0.1},{"t":205,"o":0.3,"d":0.3,"h":0.3},{"t":211,"o":0.7,"d":0.4,"h":0.4},{"t":217,"o":0.4,"d":0.5,"h":0.5},{"t":223,"o":1.2,"d":0.6,"h":0.6},{"t":229,"o":0.5,"d":0.8,"h":0.8},{"t":235,"o":1.5,"d":1.3,"h":1.3},{"t":241,"o":1.2,"d":1.2,"h":1.2},{"t":247,"o":0.2,"d":0.5,"h":0.5},{"t":253,"o":0.3,"d":0.1,"h":0.1},{"t":259,"o":-1.0,"d":-0.5,"h":-0.5},{"t":265,"o":-1.4,"d":-1.3,"h":-1.3},{"t":271,"o":0.6,"d":-0.6,"h":-0.6},{"t":277,"o":-0.3,"d":0.9,"h":1.0},{"t":283,"o":-1.5,"d":-0.5,"h":-0.5},{"t":289,"o":-0.5,"d":-0.8,"h":-0.8},{"t":295,"o":1.0,"d":0.5,"h":0.5},{"t":301,"o":1.0,"d":1.4,"h":1.4},{"t":307,"o":0.8,"d":1.2,"h":1.2},{"t":313,"o":0.3,"d":0.4,"h":0.4},{"t":319,"o":-1.6,"d":-0.6,"h":-0.6},{"t":325,"o":0.2,"d":-1.4,"h":-1.4},{"t":331,"o":-1.8,"d":-1.9,"h":-1.9},{"t":337,"o":-0.3,"d":-0.9,"h":-0.9},{"t":343,"o":0.6,"d":0.3,"h":0.3},{"t":349,"o":0.8,"d":0.8,"h":0.8},{"t":355,"o":0.7,"d":1.05,"h":1.05},{"t":361,"o":0.6,"d":0.8,"h":0.8},{"t":367,"o":0.0,"d":0.2,"h":0.2},{"t":373,"o":-0.7,"d":-0.6,"h":-0.6},{"t":379,"o":-1.3,"d":-1.2,"h":-1.2},{"t":385,"o":-1.0,"d":-1.3,"h":-1.3},{"t":391,"o":2.1,"d":-0.3,"h":-0.3},{"t":397,"o":1.8,"d":1.3,"h":1.3},{"t":403,"o":1.5,"d":2.3,"h":2.3},{"t":409,"o":1.0,"d":2.6,"h":2.6},{"t":415,"o":0.3,"d":1.4,"h":1.4},{"t":421,"o":1.5,"d":0.1,"h":0.1},{"t":427,"o":1.8,"d":2.3,"h":2.4},{"t":432,"o":1.0,"d":1.5,"h":1.5}],
"g": [{"t":1,"o":-0.2,"d":-0.2,"h":-0.2},{"t":5,"o":-1.3,"d":-1.0,"h":-1.5},{"t":9,"o":-1.8,"d":-1.5,"h":-2.3},{"t":13,"o":0.4,"d":-0.3,"h":-0.5},{"t":17,"o":0.6,"d":0.2,"h":0.1},{"t":21,"o":0.2,"d":0.8,"h":0.7},{"t":25,"o":1.1,"d":1.7,"h":1.8},{"t":29,"o":2.0,"d":1.2,"h":1.1},{"t":33,"o":-0.2,"d":0.5,"h":0.6},{"t":37,"o":0.5,"d":-0.2,"h":-0.1},{"t":41,"o":1.3,"d":0.3,"h":0.2},{"t":45,"o":-1.5,"d":-0.6,"h":-0.5},{"t":49,"o":-0.5,"d":-1.3,"h":-1.4},{"t":53,"o":1.2,"d":-0.8,"h":-0.9},{"t":57,"o":-2.0,"d":-0.2,"h":-0.1},{"t":61,"o":0.5,"d":0.4,"h":0.5},{"t":65,"o":-0.4,"d":-0.1,"h":-0.2},{"t":69,"o":1.3,"d":-0.6,"h":-0.5},{"t":73,"o":-1.5,"d":-1.2,"h":-1.1},{"t":77,"o":-0.6,"d":-1.4,"h":-1.5},{"t":81,"o":0.5,"d":-1.0,"h":-0.9},{"t":85,"o":-0.8,"d":-0.3,"h":-0.4},{"t":89,"o":-2.0,"d":-1.1,"h":-1.2},{"t":93,"o":0.4,"d":-0.4,"h":-0.5},{"t":97,"o":2.1,"d":0.4,"h":0.3},{"t":101,"o":-1.5,"d":1.0,"h":1.1},{"t":105,"o":0.3,"d":0.2,"h":0.3},{"t":109,"o":0.5,"d":-0.4,"h":-0.3},{"t":113,"o":-2.8,"d":-0.8,"h":-0.9},{"t":117,"o":0.6,"d":0.3,"h":0.2},{"t":121,"o":2.3,"d":0.8,"h":0.7},{"t":125,"o":-1.0,"d":0.2,"h":0.3},{"t":129,"o":1.0,"d":-0.1,"h":-0.2},{"t":133,"o":0.2,"d":0.4,"h":0.5},{"t":137,"o":1.6,"d":0.9,"h":0.8},{"t":141,"o":0.8,"d":1.3,"h":1.2},{"t":145,"o":1.2,"d":1.6,"h":1.7},{"t":149,"o":1.5,"d":1.2,"h":1.1},{"t":153,"o":-0.4,"d":0.8,"h":0.9},{"t":157,"o":0.3,"d":-0.2,"h":-0.1},{"t":161,"o":-1.5,"d":-0.9,"h":-1.0},{"t":165,"o":-2.0,"d":-1.7,"h":-1.8},{"t":169,"o":0.2,"d":-1.0,"h":-1.1},{"t":173,"o":-0.6,"d":-0.4,"h":-0.3},{"t":177,"o":1.6,"d":0.3,"h":0.2},{"t":181,"o":0.2,"d":0.7,"h":0.8},{"t":185,"o":1.0,"d":1.0,"h":0.9},{"t":189,"o":-1.5,"d":0.9,"h":1.0},{"t":193,"o":0.6,"d":0.6,"h":0.5},{"t":197,"o":0.2,"d":0.3,"h":0.4},{"t":201,"o":1.6,"d":-0.1,"h":-0.2},{"t":205,"o":-0.5,"d":0.2,"h":0.1},{"t":209,"o":1.2,"d":0.7,"h":0.8},{"t":213,"o":0.3,"d":0.5,"h":0.4},{"t":217,"o":-2.0,"d":0.1,"h":0.2},{"t":221,"o":0.4,"d":-0.3,"h":-0.4},{"t":225,"o":0.6,"d":0.1,"h":0.0},{"t":229,"o":1.2,"d":0.6,"h":0.5},{"t":233,"o":2.2,"d":1.1,"h":1.0},{"t":237,"o":0.8,"d":1.4,"h":1.5},{"t":241,"o":-1.5,"d":1.0,"h":1.1},{"t":245,"o":0.5,"d":0.6,"h":0.5},{"t":249,"o":-3.0,"d":-0.4,"h":-0.3},{"t":253,"o":0.2,"d":-0.7,"h":-0.8},{"t":257,"o":1.0,"d":-0.6,"h":-0.5},{"t":261,"o":-0.6,"d":0.0,"h":-0.1},{"t":265,"o":-1.8,"d":0.2,"h":0.3},{"t":269,"o":0.3,"d":-0.4,"h":-0.3},{"t":273,"o":1.0,"d":-0.6,"h":-0.7},{"t":277,"o":-0.4,"d":-0.9,"h":-0.8},{"t":281,"o":-1.5,"d":-1.0,"h":-1.1},{"t":285,"o":0.2,"d":-0.7,"h":-0.8},{"t":289,"o":1.0,"d":0.2,"h":0.1},{"t":293,"o":0.3,"d":0.6,"h":0.7},{"t":297,"o":1.3,"d":0.9,"h":1.0},{"t":301,"o":0.6,"d":1.1,"h":1.2},{"t":305,"o":1.0,"d":1.2,"h":1.1},{"t":309,"o":0.6,"d":0.7,"h":0.8},{"t":313,"o":-0.5,"d":0.2,"h":0.3},{"t":317,"o":-2.6,"d":-0.4,"h":-0.3},{"t":321,"o":0.5,"d":-0.9,"h":-1.0},{"t":325,"o":-0.8,"d":-1.3,"h":-1.4},{"t":329,"o":1.4,"d":-0.6,"h":-0.7},{"t":333,"o":-2.5,"d":0.2,"h":0.1},{"t":337,"o":0.6,"d":0.7,"h":0.8},{"t":341,"o":1.7,"d":1.3,"h":1.2},{"t":345,"o":0.9,"d":1.0,"h":1.1},{"t":349,"o":0.2,"d":0.5,"h":0.4},{"t":353,"o":-1.0,"d":-0.1,"h":0.0},{"t":357,"o":0.4,"d":-0.4,"h":-0.5},{"t":361,"o":-1.5,"d":-1.0,"h":-0.9},{"t":365,"o":-0.3,"d":-0.7,"h":-0.8},{"t":369,"o":-1.2,"d":-0.6,"h":-0.5},{"t":373,"o":0.3,"d":-1.2,"h":-1.3},{"t":377,"o":-0.8,"d":-0.6,"h":-0.7},{"t":381,"o":1.4,"d":0.1,"h":0.0},{"t":385,"o":-1.5,"d":0.5,"h":0.6},{"t":389,"o":1.3,"d":1.2,"h":1.1},{"t":393,"o":1.0,"d":1.8,"h":1.9},{"t":397,"o":1.5,"d":1.4,"h":1.3},{"t":401,"o":0.8,"d":1.0,"h":1.1},{"t":405,"o":0.5,"d":0.4,"h":0.5},{"t":409,"o":1.0,"d":0.5,"h":0.4},{"t":413,"o":-1.2,"d":0.6,"h":0.7},{"t":417,"o":1.2,"d":1.5,"h":1.4},{"t":421,"o":2.7,"d":2.6,"h":2.7},{"t":425,"o":1.0,"d":1.8,"h":1.9},{"t":429,"o":-1.0,"d":1.0,"h":1.1},{"t":432,"o":2.4,"d":0.9,"h":1.0}],
"h": [{"t":1,"o":-0.3,"d":-0.3,"h":0.3},{"t":5,"o":-1.2,"d":0.0,"h":-0.3},{"t":9,"o":-1.7,"d":-1.0,"h":-1.3},{"t":13,"o":0.5,"d":-1.6,"h":-2.2},{"t":17,"o":-0.5,"d":-0.5,"h":-0.8},{"t":21,"o":0.4,"d":0.3,"h":0.2},{"t":25,"o":1.0,"d":1.0,"h":0.9},{"t":29,"o":1.8,"d":1.7,"h":1.8},{"t":33,"o":0.2,"d":1.1,"h":1.2},{"t":37,"o":0.8,"d":0.2,"h":0.3},{"t":41,"o":-1.8,"d":-0.3,"h":-0.2},{"t":45,"o":-0.5,"d":-0.8,"h":-0.9},{"t":49,"o":0.9,"d":-1.2,"h":-1.3},{"t":53,"o":-2.0,"d":-2.0,"h":-2.1},{"t":57,"o":-0.8,"d":-2.2,"h":-2.4},{"t":61,"o":1.2,"d":-1.0,"h":-1.1},{"t":65,"o":-0.3,"d":-0.2,"h":-0.3},{"t":69,"o":0.4,"d":0.5,"h":0.6},{"t":73,"o":-1.7,"d":0.1,"h":0.2},{"t":77,"o":-0.2,"d":-0.5,"h":-0.6},{"t":81,"o":-0.6,"d":-1.0,"h":-0.9},{"t":85,"o":1.3,"d":-1.4,"h":-1.5},{"t":89,"o":-1.8,"d":-1.6,"h":-1.7},{"t":93,"o":-0.5,"d":-1.2,"h":-1.1},{"t":97,"o":1.5,"d":-0.6,"h":-0.7},{"t":101,"o":-0.3,"d":-0.8,"h":-0.7},{"t":105,"o":-2.3,"d":-1.5,"h":-1.6},{"t":109,"o":1.5,"d":-1.2,"h":-1.3},{"t":113,"o":-1.0,"d":-0.4,"h":-0.3},{"t":117,"o":0.3,"d":0.2,"h":0.3},{"t":121,"o":2.1,"d":0.8,"h":0.7},{"t":125,"o":0.5,"d":0.6,"h":0.7},{"t":129,"o":1.0,"d":0.7,"h":0.6},{"t":133,"o":0.3,"d":1.0,"h":1.1},{"t":137,"o":0.9,"d":0.8,"h":0.9},{"t":141,"o":1.6,"d":1.3,"h":1.2},{"t":145,"o":1.8,"d":1.7,"h":1.8},{"t":149,"o":0.8,"d":1.4,"h":1.3},{"t":153,"o":-1.0,"d":0.5,"h":0.6},{"t":157,"o":-0.3,"d":-0.2,"h":-0.1},{"t":161,"o":-0.8,"d":-0.5,"h":-0.6},{"t":165,"o":-2.0,"d":-0.5,"h":-0.4},{"t":169,"o":-0.8,"d":-1.4,"h":-1.5},{"t":173,"o":0.3,"d":-1.8,"h":-1.9},{"t":177,"o":-0.4,"d":-1.0,"h":-1.1},{"t":181,"o":0.6,"d":-0.1,"h":-0.2},{"t":185,"o":1.0,"d":0.6,"h":0.5},{"t":189,"o":-0.3,"d":1.0,"h":1.1},{"t":193,"o":1.3,"d":1.2,"h":1.3},{"t":197,"o":0.5,"d":1.0,"h":0.9},{"t":201,"o":0.2,"d":0.2,"h":0.3},{"t":205,"o":0.8,"d":0.3,"h":0.2},{"t":209,"o":1.8,"d":0.8,"h":0.7},{"t":213,"o":-0.5,"d":0.7,"h":0.8},{"t":217,"o":0.5,"d":0.5,"h":0.4},{"t":221,"o":-0.4,"d":0.3,"h":0.4},{"t":225,"o":0.6,"d":0.2,"h":0.1},{"t":229,"o":0.9,"d":0.4,"h":0.5},{"t":233,"o":2.1,"d":0.7,"h":0.6},{"t":237,"o":0.5,"d":1.2,"h":1.1},{"t":241,"o":1.2,"d":1.4,"h":1.5},{"t":245,"o":0.3,"d":1.0,"h":1.1},{"t":249,"o":0.8,"d":0.5,"h":0.4},{"t":253,"o":-1.0,"d":0.6,"h":0.7},{"t":257,"o":0.8,"d":0.2,"h":0.1},{"t":261,"o":-1.2,"d":-0.3,"h":-0.2},{"t":265,"o":-0.3,"d":-0.8,"h":-0.9},{"t":269,"o":0.5,"d":-1.1,"h":-1.2},{"t":273,"o":1.6,"d":-1.3,"h":-1.2},{"t":277,"o":-1.0,"d":-0.5,"h":-0.6},{"t":281,"o":0.2,"d":0.3,"h":0.2},{"t":285,"o":0.6,"d":0.6,"h":0.7},{"t":289,"o":1.0,"d":1.0,"h":0.9},{"t":293,"o":0.4,"d":1.1,"h":1.2},{"t":297,"o":1.5,"d":1.3,"h":1.4},{"t":301,"o":-0.5,"d":0.8,"h":0.9},{"t":305,"o":0.3,"d":0.0,"h":0.1},{"t":309,"o":-1.6,"d":-0.8,"h":-0.7},{"t":313,"o":-0.6,"d":-1.1,"h":-1.2},{"t":317,"o":-1.2,"d":-1.5,"h":-1.6},{"t":321,"o":-0.4,"d":-1.7,"h":-1.9},{"t":325,"o":0.3,"d":-1.0,"h":-1.1},{"t":329,"o":1.6,"d":-0.3,"h":-0.4},{"t":333,"o":-0.5,"d":0.2,"h":0.1},{"t":337,"o":0.6,"d":0.6,"h":0.5},{"t":341,"o":1.0,"d":1.15,"h":1.2},{"t":345,"o":1.4,"d":0.8,"h":0.7},{"t":349,"o":-0.6,"d":0.4,"h":0.5},{"t":353,"o":0.2,"d":0.0,"h":0.1},{"t":357,"o":-0.8,"d":-0.4,"h":-0.3},{"t":361,"o":-2.1,"d":-0.7,"h":-0.8},{"t":365,"o":-0.5,"d":-1.0,"h":-1.1},{"t":369,"o":-0.9,"d":-0.9,"h":-0.8},{"t":373,"o":-0.2,"d":-0.8,"h":-0.9},{"t":377,"o":-0.8,"d":-1.3,"h":-1.4},{"t":381,"o":0.2,"d":-0.9,"h":-0.8},{"t":385,"o":1.6,"d":0.2,"h":0.1},{"t":389,"o":2.2,"d":1.3,"h":1.2},{"t":393,"o":1.8,"d":2.2,"h":2.3},{"t":397,"o":0.8,"d":1.5,"h":1.6},{"t":401,"o":1.0,"d":0.7,"h":0.8},{"t":405,"o":0.6,"d":0.5,"h":0.4},{"t":409,"o":1.5,"d":0.8,"h":0.7},{"t":413,"o":1.0,"d":1.5,"h":1.6},{"t":417,"o":2.5,"d":2.5,"h":2.4},{"t":421,"o":3.0,"d":2.9,"h":3.0},{"t":425,"o":1.8,"d":3.1,"h":3.2},{"t":429,"o":-0.8,"d":1.2,"h":1.3},{"t":432,"o":2.0,"d":0.3,"h":0.5}],
"i": [{"t":1,"o":0.2,"d":-0.7,"h":-0.6},{"t":7,"o":-0.3,"d":0.2,"h":0.2},{"t":13,"o":-1.6,"d":-1.0,"h":-1.0},{"t":19,"o":-1.5,"d":-1.6,"h":-1.6},{"t":25,"o":0.3,"d":-0.3,"h":-0.3},{"t":31,"o":0.4,"d":0.8,"h":1.0},{"t":37,"o":-0.3,"d":0.0,"h":0.0},{"t":43,"o":-1.2,"d":-1.0,"h":-1.0},{"t":49,"o":-2.0,"d":-2.0,"h":-2.0},{"t":55,"o":-2.2,"d":-2.4,"h":-2.4},{"t":61,"o":-1.0,"d":-2.0,"h":-2.0},{"t":67,"o":-1.7,"d":-0.8,"h":-0.8},{"t":73,"o":-1.5,"d":0.4,"h":0.4},{"t":79,"o":-1.4,"d":-0.7,"h":-0.7},{"t":85,"o":-1.3,"d":-1.4,"h":-1.4},{"t":91,"o":-0.9,"d":-0.9,"h":-0.9},{"t":97,"o":-1.0,"d":-0.3,"h":-0.3},{"t":103,"o":-0.5,"d":-1.2,"h":-1.3},{"t":109,"o":0.4,"d":-0.2,"h":-0.2},{"t":115,"o":0.6,"d":0.6,"h":0.6},{"t":121,"o":0.6,"d":1.3,"h":1.3},{"t":127,"o":0.8,"d":0.9,"h":0.9},{"t":133,"o":1.6,"d":1.1,"h":1.1},{"t":139,"o":1.4,"d":1.7,"h":1.7},{"t":145,"o":0.3,"d":1.9,"h":1.9},{"t":151,"o":-0.5,"d":0.4,"h":0.4},{"t":157,"o":-1.4,"d":-0.8,"h":-0.8},{"t":163,"o":-1.4,"d":-1.7,"h":-1.7},{"t":169,"o":-1.3,"d":-1.5,"h":-1.5},{"t":175,"o":-0.8,"d":-0.6,"h":-0.6},{"t":181,"o":0.5,"d":1.0,"h":1.0},{"t":187,"o":0.6,"d":1.3,"h":1.3},{"t":193,"o":0.2,"d":0.3,"h":0.3},{"t":199,"o":0.6,"d":-0.1,"h":-0.1},{"t":205,"o":0.8,"d":0.4,"h":0.4},{"t":211,"o":0.4,"d":0.7,"h":0.7},{"t":217,"o":0.8,"d":0.5,"h":0.5},{"t":223,"o":0.5,"d":0.3,"h":0.3},{"t":229,"o":0.6,"d":0.7,"h":0.7},{"t":235,"o":0.8,"d":0.9,"h":0.9},{"t":241,"o":0.5,"d":0.6,"h":0.6},{"t":247,"o":0.3,"d":0.3,"h":0.3},{"t":253,"o":0.0,"d":0.1,"h":0.1},{"t":259,"o":-0.7,"d":-0.5,"h":-0.5},{"t":265,"o":-0.5,"d":-0.9,"h":-0.9},{"t":271,"o":0.0,"d":0.3,"h":0.4},{"t":277,"o":-0.7,"d":-0.2,"h":-0.2},{"t":283,"o":-0.4,"d":-0.4,"h":-0.4},{"t":289,"o":0.9,"d":0.3,"h":0.3},{"t":295,"o":0.9,"d":1.0,"h":1.0},{"t":301,"o":0.6,"d":1.2,"h":1.2},{"t":307,"o":-0.3,"d":0.5,"h":0.5},{"t":313,"o":-1.6,"d":-0.6,"h":-0.6},{"t":319,"o":-0.3,"d":-1.4,"h":-1.4},{"t":325,"o":-0.5,"d":-1.1,"h":-1.1},{"t":331,"o":0.2,"d":0.0,"h":0.0},{"t":337,"o":0.8,"d":0.9,"h":0.9},{"t":343,"o":0.6,"d":1.1,"h":1.1},{"t":349,"o":0.0,"d":0.7,"h":0.7},{"t":355,"o":-0.5,"d":0.0,"h":0.0},{"t":361,"o":-0.9,"d":-0.7,"h":-0.7},{"t":367,"o":-1.1,"d":-1.5,"h":-1.5},{"t":373,"o":-1.3,"d":-1.2,"h":-1.2},{"t":379,"o":-1.6,"d":-0.5,"h":-0.5},{"t":385,"o":1.6,"d":0.3,"h":0.3},{"t":391,"o":1.6,"d":1.6,"h":1.6},{"t":397,"o":1.5,"d":2.3,"h":2.3},{"t":403,"o":0.8,"d":1.5,"h":1.5},{"t":409,"o":0.9,"d":0.8,"h":0.8},{"t":415,"o":2.0,"d":1.0,"h":1.0},{"t":421,"o":2.5,"d":2.5,"h":2.5},{"t":427,"o":2.2,"d":3.0,"h":3.0},{"t":432,"o":1.5,"d":2.0,"h":2.0}]
},
"concat": [
{"width":313,"height":197,"data":{"name":"a"},"layer":[
 {"transform":[{"fold":["o","d","h"],"as":["k","v"]}],"mark":{"type":"line","strokeWidth":1.8},
  "encoding":{
   "x":{"field":"t","type":"quantitative","scale":{"domain":[0.5,432.5],"range":[1,283],"nice":false,"zero":false},
        "axis":{"title":"Time Steps","tickCount":432,"labelExpr":"(datum.value-1)%48==0?datum.label:''","labelOverlap":false,"labelAngle":-90,"labelFontSize":25,"labelPadding":10,"tickSize":8,"tickColor":"#aaa","tickWidth":0.5,"domainColor":"#999","offset":-79,"titleFontSize":26,"titlePadding":0,"titleX":120}},
   "y":{"field":"v","type":"quantitative","scale":{"domain":[-4,6],"range":[197,0],"nice":false,"zero":false},
        "axis":{"title":"3 Month SPI","values":[-4,-2,0,2,4,6],"tickCount":12,"format":"d","labelOverlap":false,"labelFontSize":22,"labelPadding":10,"tickSize":6,"tickColor":"#bfbfbf","domainColor":"#bfbfbf","titleFontSize":33,"titlePadding":10,"offset":-1}},
   "color":{"field":"k","type":"nominal","scale":{"domain":["o","d","h"],"range":["#4F81BD","#C0504D","#9BBB59"]},"legend":{"title":null,"orient":"none","legendX":-10,"legendY":815,"direction":"horizontal","labelExpr":"datum.label=='o'?'Observed Model':datum.label=='d'?'Simulated (Double Exponential)':'Simulated (Holt-Winter)'"}},
   "strokeDash":{"field":"k","type":"nominal","scale":{"domain":["o","d","h"],"range":[[1,0],[1,0],[2,2]]},"legend":{"title":null,"orient":"none","legendX":-10,"legendY":815,"direction":"horizontal","labelExpr":"datum.label=='o'?'Observed Model':datum.label=='d'?'Simulated (Double Exponential)':'Simulated (Holt-Winter)'"}}
  }},
 {"data":{"values":[{}]},"mark":{"type":"text","font":"Liberation Serif","fontWeight":"bold","fontSize":26,"align":"center","baseline":"middle","color":"#000"},"encoding":{"x":{"datum":22},"y":{"datum":5.5},"text":{"value":"a"}}},
 {"data":{"values":[{}]},"mark":{"type":"text","font":"Liberation Serif","fontWeight":"bold","fontSize":26,"align":"right","baseline":"middle","color":"#000"},"encoding":{"x":{"datum":417},"y":{"datum":5.5},"text":{"value":"Station 229869"}}}
]},
{"width":295,"height":197,"data":{"name":"b"},"layer":[
 {"transform":[{"fold":["o","d","h"],"as":["k","v"]}],"mark":{"type":"line","strokeWidth":1.8},
  "encoding":{
   "x":{"field":"t","type":"quantitative","scale":{"domain":[0.5,432.5],"range":[0,275],"nice":false,"zero":false},
        "axis":{"title":"Time Steps","tickCount":432,"labelExpr":"(datum.value-1)%48==0?datum.label:''","labelOverlap":false,"labelAngle":-90,"labelFontSize":25,"labelPadding":10,"tickSize":8,"tickColor":"#aaa","tickWidth":0.5,"domainColor":"#999","offset":-93,"titleFontSize":22,"titlePadding":24}},
   "y":{"field":"v","type":"quantitative","scale":{"domain":[-5,10],"range":[155,2],"nice":false,"zero":false},
        "axis":{"title":"6 Month SPI","values":[-5,0,5,10],"tickCount":12,"format":"d","labelOverlap":false,"labelFontSize":22,"labelPadding":10,"tickSize":6,"tickColor":"#bfbfbf","domainColor":"#bfbfbf","titleFontSize":30,"titlePadding":13,"titleY":83}},
   "color":{"field":"k","type":"nominal","scale":{"domain":["o","d","h"],"range":["#4F81BD","#C0504D","#9BBB59"]},"legend":{"title":null,"orient":"none","legendX":-10,"legendY":815,"direction":"horizontal","labelExpr":"datum.label=='o'?'Observed Model':datum.label=='d'?'Simulated (Double Exponential)':'Simulated (Holt-Winter)'"}},
   "strokeDash":{"field":"k","type":"nominal","scale":{"domain":["o","d","h"],"range":[[1,0],[1,0],[2,2]]},"legend":{"title":null,"orient":"none","legendX":-10,"legendY":815,"direction":"horizontal","labelExpr":"datum.label=='o'?'Observed Model':datum.label=='d'?'Simulated (Double Exponential)':'Simulated (Holt-Winter)'"}}
  }},
 {"data":{"values":[{}]},"mark":{"type":"text","font":"Liberation Serif","fontWeight":"bold","fontSize":26,"align":"center","baseline":"middle","color":"#000"},"encoding":{"x":{"datum":43},"y":{"datum":9.5},"text":{"value":"b"}}},
 {"data":{"values":[{}]},"mark":{"type":"text","font":"Liberation Serif","fontWeight":"bold","fontSize":26,"align":"right","baseline":"middle","color":"#000"},"encoding":{"x":{"datum":440},"y":{"datum":9.8},"text":{"value":"Station 229869"}}}
]},
{"width":298,"height":197,"data":{"name":"c"},"layer":[
 {"transform":[{"fold":["o","d","h"],"as":["k","v"]}],"mark":{"type":"line","strokeWidth":1.8},
  "encoding":{
   "x":{"field":"t","type":"quantitative","scale":{"domain":[0.5,432.5],"range":[0,280],"nice":false,"zero":false},
        "axis":{"title":"Time Steps","tickCount":432,"labelExpr":"(datum.value-1)%48==0?datum.label:''","labelOverlap":false,"labelAngle":-90,"labelFontSize":25,"labelPadding":10,"tickSize":8,"tickColor":"#aaa","tickWidth":0.5,"domainColor":"#999","offset":-83,"titleFontSize":26,"titlePadding":4}},
   "y":{"field":"v","type":"quantitative","scale":{"domain":[-5,10],"range":[170,2],"nice":false,"zero":false},
        "axis":{"title":"12 Month SPI","values":[-5,0,5,10],"tickCount":12,"format":"d","labelOverlap":false,"labelFontSize":22,"labelPadding":10,"tickSize":6,"tickColor":"#bfbfbf","domainColor":"#bfbfbf","titleFontSize":30,"titlePadding":4}},
   "color":{"field":"k","type":"nominal","scale":{"domain":["o","d","h"],"range":["#4F81BD","#C0504D","#9BBB59"]},"legend":{"title":null,"orient":"none","legendX":-10,"legendY":815,"direction":"horizontal","labelExpr":"datum.label=='o'?'Observed Model':datum.label=='d'?'Simulated (Double Exponential)':'Simulated (Holt-Winter)'"}},
   "strokeDash":{"field":"k","type":"nominal","scale":{"domain":["o","d","h"],"range":[[1,0],[1,0],[2,2]]},"legend":{"title":null,"orient":"none","legendX":-10,"legendY":815,"direction":"horizontal","labelExpr":"datum.label=='o'?'Observed Model':datum.label=='d'?'Simulated (Double Exponential)':'Simulated (Holt-Winter)'"}}
  }},
 {"data":{"values":[{}]},"mark":{"type":"text","font":"Liberation Serif","fontWeight":"bold","fontSize":26,"align":"center","baseline":"middle","color":"#000"},"encoding":{"x":{"datum":42},"y":{"datum":9.4},"text":{"value":"c"}}},
 {"data":{"values":[{}]},"mark":{"type":"text","font":"Liberation Serif","fontWeight":"bold","fontSize":26,"align":"right","baseline":"middle","color":"#000"},"encoding":{"x":{"datum":422},"y":{"datum":10.2},"text":{"value":"Station 229869"}}}
]},
{"width":313,"height":217,"data":{"name":"d"},"layer":[
 {"transform":[{"fold":["o","d","h"],"as":["k","v"]}],"mark":{"type":"line","strokeWidth":1.8},
  "encoding":{
   "x":{"field":"t","type":"quantitative","scale":{"domain":[0.5,432.5],"range":[1,286],"nice":false,"zero":false},
        "axis":{"title":"Time Steps","tickCount":432,"labelExpr":"(datum.value-1)%48==0?datum.label:''","labelOverlap":false,"labelAngle":-90,"labelFontSize":25,"labelPadding":10,"tickSize":8,"tickColor":"#aaa","tickWidth":0.5,"domainColor":"#999","offset":-113,"titleFontSize":26,"titlePadding":35}},
   "y":{"field":"v","type":"quantitative","scale":{"domain":[-4,4],"range":[189,19],"nice":false,"zero":false},
        "axis":{"title":"3 Month SPI","values":[-4,-2,0,2,4],"tickCount":12,"format":"d","labelOverlap":false,"labelFontSize":22,"labelPadding":10,"tickSize":6,"tickColor":"#bfbfbf","domainColor":"#bfbfbf","titleFontSize":30,"titlePadding":11,"offset":-1,"titleY":118}},
   "color":{"field":"k","type":"nominal","scale":{"domain":["o","d","h"],"range":["#4F81BD","#C0504D","#9BBB59"]},"legend":{"title":null,"orient":"none","legendX":-10,"legendY":815,"direction":"horizontal","labelExpr":"datum.label=='o'?'Observed Model':datum.label=='d'?'Simulated (Double Exponential)':'Simulated (Holt-Winter)'"}},
   "strokeDash":{"field":"k","type":"nominal","scale":{"domain":["o","d","h"],"range":[[1,0],[1,0],[2,2]]},"legend":{"title":null,"orient":"none","legendX":-10,"legendY":815,"direction":"horizontal","labelExpr":"datum.label=='o'?'Observed Model':datum.label=='d'?'Simulated (Double Exponential)':'Simulated (Holt-Winter)'"}}
  }},
 {"data":{"values":[{}]},"mark":{"type":"text","font":"Liberation Serif","fontWeight":"bold","fontSize":26,"align":"center","baseline":"middle","color":"#000"},"encoding":{"x":{"datum":22},"y":{"datum":4.0},"text":{"value":"d"}}},
 {"data":{"values":[{}]},"mark":{"type":"text","font":"Liberation Serif","fontWeight":"bold","fontSize":26,"align":"right","baseline":"middle","color":"#000"},"encoding":{"x":{"datum":431},"y":{"datum":4.75},"text":{"value":"Station 233869"}}}
]},
{"width":295,"height":217,"data":{"name":"e"},"layer":[
 {"transform":[{"fold":["o","d","h"],"as":["k","v"]}],"mark":{"type":"line","strokeWidth":1.8},
  "encoding":{
   "x":{"field":"t","type":"quantitative","scale":{"domain":[0.5,432.5],"range":[2,275],"nice":false,"zero":false},
        "axis":{"title":"Time Steps","tickCount":432,"labelExpr":"(datum.value-1)%48==0?datum.label:''","labelOverlap":false,"labelAngle":-90,"labelFontSize":25,"labelPadding":10,"tickSize":8,"tickColor":"#aaa","tickWidth":0.5,"domainColor":"#999","offset":-112,"titleFontSize":26,"titlePadding":39}},
   "y":{"field":"v","type":"quantitative","scale":{"domain":[-4,4],"range":[208,1],"nice":false,"zero":false},
        "axis":{"title":"6 Month SPI","values":[-4,-2,0,2,4],"tickCount":12,"format":"d","labelOverlap":false,"labelFontSize":22,"labelPadding":10,"tickSize":6,"tickColor":"#bfbfbf","domainColor":"#bfbfbf","titleFontSize":30,"titlePadding":19,"offset":-2,"titleY":121}},
   "color":{"field":"k","type":"nominal","scale":{"domain":["o","d","h"],"range":["#4F81BD","#C0504D","#9BBB59"]},"legend":{"title":null,"orient":"none","legendX":-10,"legendY":815,"direction":"horizontal","labelExpr":"datum.label=='o'?'Observed Model':datum.label=='d'?'Simulated (Double Exponential)':'Simulated (Holt-Winter)'"}},
   "strokeDash":{"field":"k","type":"nominal","scale":{"domain":["o","d","h"],"range":[[1,0],[1,0],[2,2]]},"legend":{"title":null,"orient":"none","legendX":-10,"legendY":815,"direction":"horizontal","labelExpr":"datum.label=='o'?'Observed Model':datum.label=='d'?'Simulated (Double Exponential)':'Simulated (Holt-Winter)'"}}
  }},
 {"data":{"values":[{}]},"mark":{"type":"text","font":"Liberation Serif","fontWeight":"bold","fontSize":26,"align":"center","baseline":"middle","color":"#000"},"encoding":{"x":{"datum":40},"y":{"datum":3.34},"text":{"value":"e"}}},
 {"data":{"values":[{}]},"mark":{"type":"text","font":"Liberation Serif","fontWeight":"bold","fontSize":26,"align":"right","baseline":"middle","color":"#000"},"encoding":{"x":{"datum":461},"y":{"datum":4.19},"text":{"value":"Station 233869"}}}
]},
{"width":298,"height":217,"data":{"name":"f"},"layer":[
 {"transform":[{"fold":["o","d","h"],"as":["k","v"]}],"mark":{"type":"line","strokeWidth":1.8},
  "encoding":{
   "x":{"field":"t","type":"quantitative","scale":{"domain":[0.5,432.5],"range":[2,280],"nice":false,"zero":false},
        "axis":{"title":"Time Steps","tickCount":432,"labelExpr":"(datum.value-1)%48==0?datum.label:''","labelOverlap":false,"labelAngle":-90,"labelFontSize":25,"labelPadding":10,"tickSize":8,"tickColor":"#aaa","tickWidth":0.5,"domainColor":"#999","offset":-108,"titleFontSize":26,"titlePadding":42}},
   "y":{"field":"v","type":"quantitative","scale":{"domain":[-4,4],"range":[217,1],"nice":false,"zero":false},
        "axis":{"title":"12 Month SPI","values":[-4,-2,0,2,4],"tickCount":12,"format":"d","labelOverlap":false,"labelFontSize":22,"labelPadding":10,"tickSize":6,"tickColor":"#bfbfbf","domainColor":"#bfbfbf","titleFontSize":29,"titlePadding":10,"offset":-2,"titleY":134}},
   "color":{"field":"k","type":"nominal","scale":{"domain":["o","d","h"],"range":["#4F81BD","#C0504D","#9BBB59"]},"legend":{"title":null,"orient":"none","legendX":-10,"legendY":815,"direction":"horizontal","labelExpr":"datum.label=='o'?'Observed Model':datum.label=='d'?'Simulated (Double Exponential)':'Simulated (Holt-Winter)'"}},
   "strokeDash":{"field":"k","type":"nominal","scale":{"domain":["o","d","h"],"range":[[1,0],[1,0],[2,2]]},"legend":{"title":null,"orient":"none","legendX":-10,"legendY":815,"direction":"horizontal","labelExpr":"datum.label=='o'?'Observed Model':datum.label=='d'?'Simulated (Double Exponential)':'Simulated (Holt-Winter)'"}}
  }},
 {"data":{"values":[{}]},"mark":{"type":"text","font":"Liberation Serif","fontWeight":"bold","fontSize":26,"align":"center","baseline":"middle","color":"#000"},"encoding":{"x":{"datum":25},"y":{"datum":3.37},"text":{"value":"f"}}},
 {"data":{"values":[{}]},"mark":{"type":"text","font":"Liberation Serif","fontWeight":"bold","fontSize":26,"align":"right","baseline":"middle","color":"#000"},"encoding":{"x":{"datum":422},"y":{"datum":4.18},"text":{"value":"Station 233869"}}}
]},
{"width":313,"height":212,"data":{"name":"g"},"layer":[
 {"transform":[{"fold":["o","d","h"],"as":["k","v"]}],"mark":{"type":"line","strokeWidth":1.8},
  "encoding":{
   "x":{"field":"t","type":"quantitative","scale":{"domain":[0.5,432.5],"range":[0,281],"nice":false,"zero":false},
        "axis":{"title":"Time Steps","tickCount":432,"labelExpr":"(datum.value-1)%48==0?datum.label:''","labelOverlap":false,"labelAngle":-90,"labelFontSize":25,"labelPadding":10,"tickSize":8,"tickColor":"#aaa","tickWidth":0.5,"domainColor":"#999","offset":-102,"titleFontSize":26,"titlePadding":37}},
   "y":{"field":"v","type":"quantitative","scale":{"domain":[-4,4],"range":[203,18],"nice":false,"zero":false},
        "axis":{"title":"3 Month SPI","values":[-4,-2,0,2,4],"tickCount":12,"format":"d","labelOverlap":false,"labelFontSize":22,"labelPadding":10,"tickSize":6,"tickColor":"#bfbfbf","domainColor":"#bfbfbf","titleFontSize":31,"titlePadding":10,"titleY":119}},
   "color":{"field":"k","type":"nominal","scale":{"domain":["o","d","h"],"range":["#4F81BD","#C0504D","#9BBB59"]},"legend":{"title":null,"orient":"none","legendX":-10,"legendY":815,"direction":"horizontal","labelExpr":"datum.label=='o'?'Observed Model':datum.label=='d'?'Simulated (Double Exponential)':'Simulated (Holt-Winter)'"}},
   "strokeDash":{"field":"k","type":"nominal","scale":{"domain":["o","d","h"],"range":[[1,0],[1,0],[2,2]]},"legend":{"title":null,"orient":"none","legendX":-10,"legendY":815,"direction":"horizontal","labelExpr":"datum.label=='o'?'Observed Model':datum.label=='d'?'Simulated (Double Exponential)':'Simulated (Holt-Winter)'"}}
  }},
 {"data":{"values":[{}]},"mark":{"type":"text","font":"Liberation Serif","fontWeight":"bold","fontSize":26,"align":"center","baseline":"middle","color":"#000"},"encoding":{"x":{"datum":23},"y":{"datum":3.7},"text":{"value":"g"}}},
 {"data":{"values":[{}]},"mark":{"type":"text","font":"Liberation Serif","fontWeight":"bold","fontSize":26,"align":"right","baseline":"middle","color":"#000"},"encoding":{"x":{"datum":436},"y":{"datum":4.48},"text":{"value":"Station 233875"}}}
]},
{"width":295,"height":212,"data":{"name":"h"},"layer":[
 {"transform":[{"fold":["o","d","h"],"as":["k","v"]}],"mark":{"type":"line","strokeWidth":1.8},
  "encoding":{
   "x":{"field":"t","type":"quantitative","scale":{"domain":[0.5,432.5],"range":[2,295],"nice":false,"zero":false},
        "axis":{"title":"Time Steps","tickCount":432,"labelExpr":"(datum.value-1)%48==0?datum.label:''","labelOverlap":false,"labelAngle":-90,"labelFontSize":25,"labelPadding":10,"tickSize":8,"tickColor":"#aaa","tickWidth":0.5,"domainColor":"#999","offset":-114,"titleFontSize":26,"titlePadding":42}},
   "y":{"field":"v","type":"quantitative","scale":{"domain":[-4,4],"range":[197,0],"nice":false,"zero":false},
        "axis":{"title":"6 Month SPI","values":[-4,-2,0,2,4],"tickCount":12,"format":"d","labelOverlap":false,"labelFontSize":22,"labelPadding":10,"tickSize":6,"tickColor":"#bfbfbf","domainColor":"#bfbfbf","titleFontSize":29,"titlePadding":14,"offset":-2}},
   "color":{"field":"k","type":"nominal","scale":{"domain":["o","d","h"],"range":["#4F81BD","#C0504D","#9BBB59"]},"legend":{"title":null,"orient":"none","legendX":-10,"legendY":815,"direction":"horizontal","labelExpr":"datum.label=='o'?'Observed Model':datum.label=='d'?'Simulated (Double Exponential)':'Simulated (Holt-Winter)'"}},
   "strokeDash":{"field":"k","type":"nominal","scale":{"domain":["o","d","h"],"range":[[1,0],[1,0],[2,2]]},"legend":{"title":null,"orient":"none","legendX":-10,"legendY":815,"direction":"horizontal","labelExpr":"datum.label=='o'?'Observed Model':datum.label=='d'?'Simulated (Double Exponential)':'Simulated (Holt-Winter)'"}}
  }},
 {"data":{"values":[{}]},"mark":{"type":"text","font":"Liberation Serif","fontWeight":"bold","fontSize":26,"align":"center","baseline":"middle","color":"#000"},"encoding":{"x":{"datum":37},"y":{"datum":3.88},"text":{"value":"h"}}},
 {"data":{"values":[{}]},"mark":{"type":"text","font":"Liberation Serif","fontWeight":"bold","fontSize":26,"align":"right","baseline":"middle","color":"#000"},"encoding":{"x":{"datum":432},"y":{"datum":4.08},"text":{"value":"Station 233875"}}}
]},
{"width":298,"height":212,"data":{"name":"i"},"layer":[
 {"transform":[{"fold":["o","d","h"],"as":["k","v"]}],"mark":{"type":"line","strokeWidth":1.8},
  "encoding":{
   "x":{"field":"t","type":"quantitative","scale":{"domain":[0.5,432.5],"range":[10,298],"nice":false,"zero":false},
        "axis":{"title":"Time Steps","tickCount":432,"labelExpr":"(datum.value-1)%48==0?datum.label:''","labelOverlap":false,"labelAngle":-90,"labelFontSize":25,"labelPadding":10,"tickSize":8,"tickColor":"#aaa","tickWidth":0.5,"domainColor":"#999","offset":-98,"titleFontSize":26,"titlePadding":38}},
   "y":{"field":"v","type":"quantitative","scale":{"domain":[-4,4],"range":[212,17],"nice":false,"zero":false},
        "axis":{"title":"12 Month SPI","values":[-4,-2,0,2,4],"tickCount":12,"format":"d","labelOverlap":false,"labelFontSize":22,"labelPadding":10,"tickSize":6,"tickColor":"#bfbfbf","domainColor":"#bfbfbf","titleFontSize":30,"titlePadding":12,"offset":-10,"titleY":105}},
   "color":{"field":"k","type":"nominal","scale":{"domain":["o","d","h"],"range":["#4F81BD","#C0504D","#9BBB59"]},"legend":{"title":null,"orient":"none","legendX":-10,"legendY":815,"direction":"horizontal","labelExpr":"datum.label=='o'?'Observed Model':datum.label=='d'?'Simulated (Double Exponential)':'Simulated (Holt-Winter)'"}},
   "strokeDash":{"field":"k","type":"nominal","scale":{"domain":["o","d","h"],"range":[[1,0],[1,0],[2,2]]},"legend":{"title":null,"orient":"none","legendX":-10,"legendY":815,"direction":"horizontal","labelExpr":"datum.label=='o'?'Observed Model':datum.label=='d'?'Simulated (Double Exponential)':'Simulated (Holt-Winter)'"}}
  }},
 {"data":{"values":[{}]},"mark":{"type":"text","font":"Liberation Serif","fontWeight":"bold","fontSize":26,"align":"center","baseline":"middle","color":"#000"},"encoding":{"x":{"datum":20},"y":{"datum":4.29},"text":{"value":"i"}}},
 {"data":{"values":[{}]},"mark":{"type":"text","font":"Liberation Serif","fontWeight":"bold","fontSize":26,"align":"right","baseline":"middle","color":"#000"},"encoding":{"x":{"datum":416},"y":{"datum":5.19},"text":{"value":"Station 233875"}}}
]}
],
"config": {
 "view": {"stroke": null},
 "font": "Liberation Serif",
 "axis": {"labelFont": "Liberation Serif", "titleFont": "Liberation Serif", "labelFontWeight": "bold", "titleFontWeight": "bold", "labelColor": "#000", "titleColor": "#000", "grid": false, "labelFlush": false, "labelOverlap": false, "labelBound": false},
 "legend": {"labelFont": "Liberation Serif", "labelFontWeight": "bold", "labelFontSize": 27, "labelColor": "#000", "labelLimit": 500, "symbolType": "stroke", "symbolSize": 2025, "symbolStrokeWidth": 3, "columnPadding": 23, "labelOffset": 7, "padding": 0}
}
}
